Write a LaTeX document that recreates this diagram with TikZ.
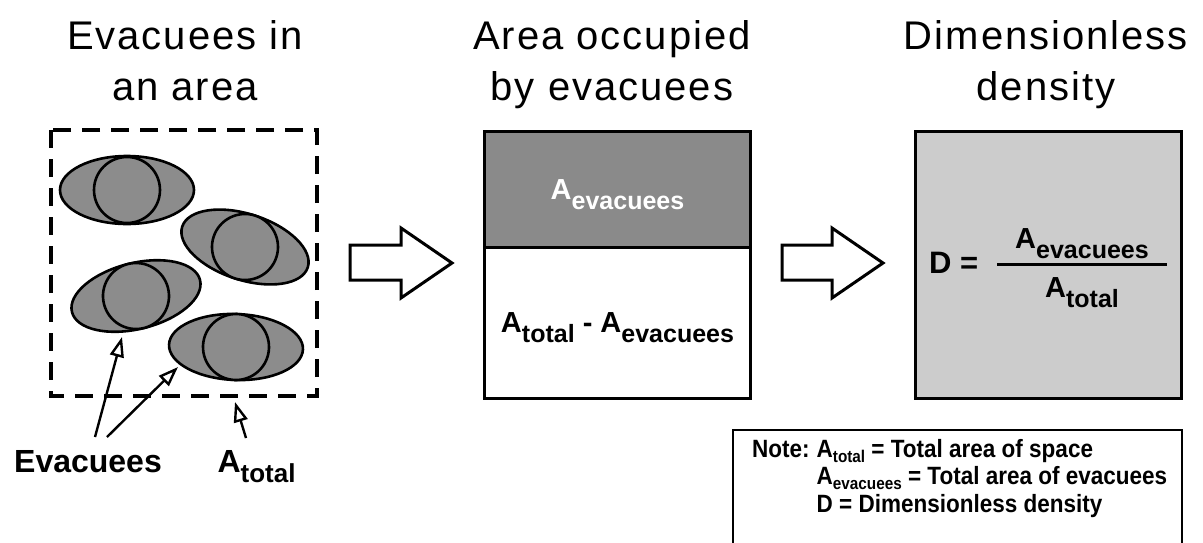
\documentclass[tikz,border=0pt]{standalone}
\usepackage{fontspec}
\setmainfont{Liberation Sans}
\newfontfamily\titlefont[LetterSpace=5]{Liberation Sans}
\newfontfamily\notefont[FakeStretch=0.9]{Liberation Sans}
\usetikzlibrary{arrows.meta}

\definecolor{personfill}{RGB}{140,140,140}
\definecolor{occfill}{RGB}{138,138,138}
\definecolor{densfill}{RGB}{204,204,204}

% A with a lowered, smaller subscript: \Asb{text}{size}{drop}
\newcommand{\Asb}[3]{A\raisebox{-#3pt}[0pt][0pt]{\fontsize{#2}{#2}\selectfont #1}}

\tikzset{
  title/.style={font=\titlefont\fontsize{40}{48}\selectfont, anchor=base},
  person/.style={draw=black, fill=personfill, line width=2.6pt},
  pointer/.style={line width=2.4pt, -{Triangle[open, length=20pt, width=14pt, line width=2.4pt]}},
  blockarrow/.style={draw=black, fill=white, line width=3pt, line join=miter},
  panel/.style={draw=black, line width=3pt, minimum width=266pt, inner sep=0pt},
  boxtext/.style={font=\bfseries\fontsize{29}{29}\selectfont},
  label/.style={font=\bfseries\fontsize{32}{32}\selectfont, anchor=base},
}

\begin{document}
\begin{tikzpicture}[x=1pt, y=-1pt]
\clip (0,0) rectangle (1203,542);
\fill[white] (0,0) rectangle (1203,542);

% ---- titles ----
\node[title] (t1a) at (185,49) {Evacuees in};
\node[title] (t1b) at (185,100) {an area};
\node[title] (t2a) at (612,49) {Area occupied};
\node[title] (t2b) at (612,100) {by evacuees};
\node[title] (t3a) at (1046,49) {Dimensionless};
\node[title] (t3b) at (1046,100) {density};

% ---- left panel: evacuees in an area ----
\draw[line width=3.2pt, dash pattern=on 18pt off 11pt] (51,130) rectangle (317,396);

\begin{scope}[shift={(127,190)}]
  \draw[person] (0,0) ellipse (67 and 34);
  \draw[person] (0,0) circle (33);
\end{scope}
\begin{scope}[shift={(245,247)}, rotate=-18]
  \draw[person] (0,0) ellipse (66 and 33);
  \draw[person] (0,0) circle (33);
\end{scope}
\begin{scope}[shift={(136,296)}, rotate=14]
  \draw[person] (0,0) ellipse (66 and 33);
  \draw[person] (0,0) circle (33);
\end{scope}
\begin{scope}[shift={(236,347)}, rotate=-2]
  \draw[person] (0,0) ellipse (67 and 33);
  \draw[person] (0,0) circle (33);
\end{scope}

\node[label] (evlabel) at (88,472) {Evacuees};
\node[label, anchor=base west] (atlabel) at (214,472) {\Asb{total}{26}{10}};

\coordinate (evfootA) at (95,437);
\coordinate (evfootB) at (107,437);
\coordinate (evtipA) at (122,337);
\coordinate (evtipB) at (178,367);
\coordinate (atfoot) at (246,438);
\coordinate (attip) at (235,402);
\draw[pointer] (evfootA) -- (evtipA);
\draw[pointer] (evfootB) -- (evtipB);
\draw[pointer] (atfoot) -- (attip);

% ---- block arrows ----
\draw[blockarrow] (350,245) -- (401,245) -- (401,228) -- (452,263) -- (401,298) -- (401,280) -- (350,280) -- cycle;
\draw[blockarrow] (782,245) -- (832,245) -- (832,228) -- (883,263) -- (832,298) -- (832,280) -- (782,280) -- cycle;

% ---- middle panel: occupied / free area ----
\node[panel, fill=occfill, minimum height=116pt, anchor=north west, text=white, boxtext] (occ) at (483,130) {\Asb{evacuees}{25}{10}};
\node[panel, fill=white, minimum height=151pt, anchor=north west, boxtext] (free) at (483,246) {\Asb{total}{25}{10} - \Asb{evacuees}{25}{10}};

% ---- right panel: dimensionless density ----
\node[panel, fill=densfill, minimum height=267pt, anchor=north west] (dens) at (914,130) {};
\node[boxtext, font=\bfseries\fontsize{31}{31}\selectfont, anchor=base west, inner sep=0pt] (deq) at (929,273) {D =};
\node[boxtext, anchor=base] (num) at (1082,248) {\Asb{evacuees}{25}{10}};
\node[boxtext, anchor=base] (den) at (1082,297) {\Asb{total}{25}{10}};
\coordinate (barL) at (997,264);
\coordinate (barR) at (1167,264);
\draw[line width=3pt] (barL) -- (barR);

% ---- note ----
\draw[line width=2.4pt] (733,560) -- (733,430) -- (1182,430) -- (1182,560);
\node[anchor=base west, inner sep=0pt, font=\notefont\bfseries\fontsize{25}{27.5}\selectfont] (note) at (752,457)
  {\begin{tabular}[t]{@{}l@{\hspace{7pt}}l@{}}
   Note: & \Asb{total}{17}{5} = Total area of space\\
         & \Asb{evacuees}{17}{5} = Total area of evacuees\\
         & D = Dimensionless density
   \end{tabular}};
\end{tikzpicture}
\end{document}
